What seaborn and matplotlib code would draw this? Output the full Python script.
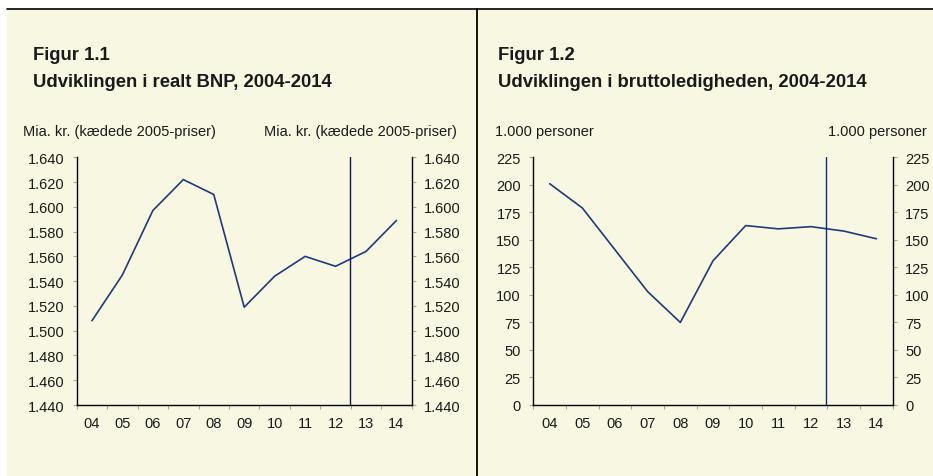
import numpy as np
import pandas as pd
import seaborn as sns
import matplotlib.pyplot as plt
from matplotlib.patches import Rectangle
from matplotlib.lines import Line2D
from matplotlib.ticker import FuncFormatter, FixedLocator

# data
years = ["04", "05", "06", "07", "08", "09", "10", "11", "12", "13", "14"]
bnp = [1508, 1545, 1597, 1622, 1610, 1519, 1544, 1560, 1552, 1564, 1589]
ledige = [201, 179, 141, 103, 75, 131, 163, 160, 162, 158, 151]

bnp_ticks = [1440, 1460, 1480, 1500, 1520, 1540, 1560, 1580, 1600, 1620, 1640]
ledige_ticks = [0, 25, 50, 75, 100, 125, 150, 175, 200, 225]

titles = ["Figur 1.1", "Figur 1.2"]
subtitles = ["Udviklingen i realt BNP, 2004-2014",
             "Udviklingen i bruttoledigheden, 2004-2014"]
units = ["Mia. kr. (kædede 2005-priser)", "1.000 personer"]

cream = "#F8F8E2"
navy = "#1F3A7C"
txt = "#1a1a1a"

sns.set_style("white")
plt.rcParams["font.family"] = ["Liberation Sans", "DejaVu Sans"]

df = pd.DataFrame({"pos": np.arange(len(years)), "bnp": bnp, "ledige": ledige})

fig = plt.figure(figsize=(9.33, 4.77), dpi=100)
fig.patch.set_facecolor("white")
fig.patches.append(Rectangle((7 / 933, 0), 1, 1 - 10 / 477, transform=fig.transFigure,
                             facecolor=cream, edgecolor="none", zorder=-10))
fig.add_artist(Line2D([7 / 933, 1], [1 - 10 / 477] * 2, color="black", lw=1.2))
fig.add_artist(Line2D([477 / 933] * 2, [0, 1 - 10 / 477], color="black", lw=1.3))

ax1 = fig.add_axes([76.7 / 933, 1 - 406 / 477, 335 / 933, 247.7 / 477])
ax2 = fig.add_axes([533.3 / 933, 1 - 406 / 477, 359.4 / 933, 247.7 / 477])

fmt = FuncFormatter(lambda v, p: f"{v:,.0f}".replace(",", "."))

for ax, col, ticks, vcol in [(ax1, "bnp", bnp_ticks, "#0d1a4d"),
                             (ax2, "ledige", ledige_ticks, "#0b2a85")]:
    ax.set_facecolor("none")
    sns.lineplot(data=df, x="pos", y=col, ax=ax, color=navy, lw=1.2)
    ax.axvline(8.47, color=vcol, lw=1.0)
    ax.set_xlim(-0.5, len(years) - 0.5)
    ax.set_ylim(ticks[0], ticks[-1])
    ax.set_yticks(ticks)
    ax.yaxis.set_major_formatter(fmt)
    ax.set_xticks(range(len(years)))
    ax.set_xticklabels(years)
    ax.xaxis.set_minor_locator(FixedLocator(np.arange(-0.5, len(years), 1)))
    ax.tick_params(axis="x", which="major", length=0, pad=8, labelsize=10.5, labelcolor=txt)
    ax.tick_params(axis="x", which="minor", length=3, width=0.8, color="#a8a8a0", bottom=True)
    ax.tick_params(axis="y", length=3, width=0.8, color="#a8a8a0", pad=6,
                   left=True, right=True, labelleft=True, labelright=True,
                   labelsize=10.5, labelcolor=txt)
    ax.set_xlabel("")
    ax.set_ylabel("")
    for s in ["left", "right", "bottom"]:
        ax.spines[s].set_visible(True)
        ax.spines[s].set_color("black")
        ax.spines[s].set_linewidth(1.0)
    ax.spines["top"].set_visible(False)

# headings
for x0, t, st in [(33 / 933, titles[0], subtitles[0]), (498 / 933, titles[1], subtitles[1])]:
    fig.text(x0, 1 - 60 / 477, t, fontsize=13.3, fontweight="bold", color=txt, va="baseline")
    fig.text(x0, 1 - 87 / 477, st, fontsize=13.3, fontweight="bold", color=txt, va="baseline")

yb = 1 - 136 / 477
fig.text(22.7 / 933, yb, units[0], fontsize=10.5, color=txt, va="baseline")
fig.text(456.7 / 933, yb, units[0], fontsize=10.5, color=txt, va="baseline", ha="right")
fig.text(495 / 933, yb, units[1], fontsize=10.5, color=txt, va="baseline")
fig.text(927 / 933, yb, units[1], fontsize=10.5, color=txt, va="baseline", ha="right")

fig.savefig("out.png", dpi=100)
